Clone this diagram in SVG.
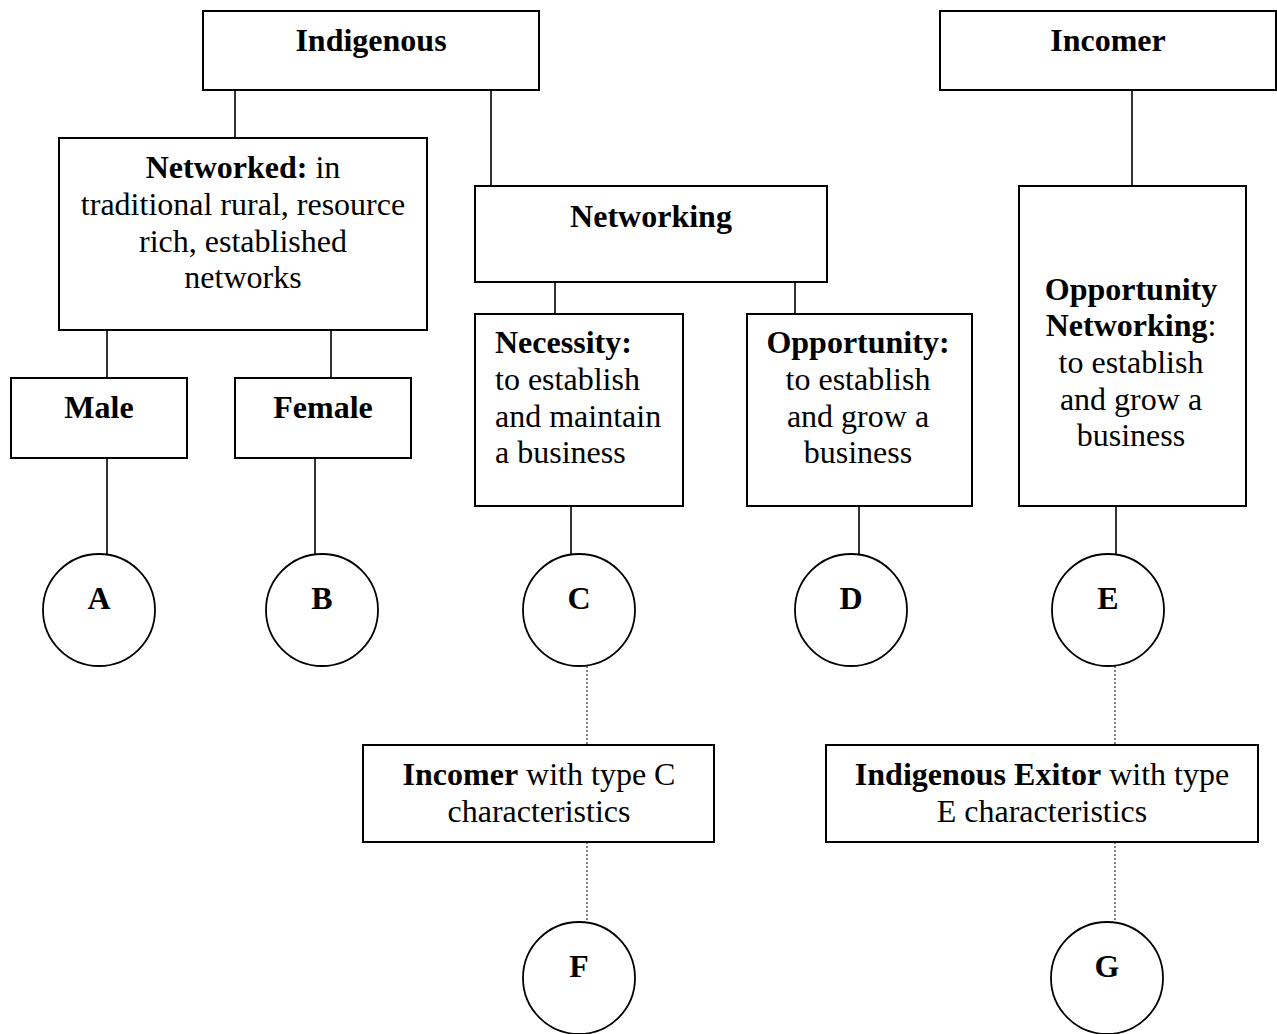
<svg xmlns="http://www.w3.org/2000/svg" width="1277" height="1034" viewBox="0 0 1277 1034">
<style>
  .box { fill: #fff; stroke: #000; stroke-width: 2; }
  .circ { fill: #fff; stroke: #000; stroke-width: 1.8; }
  .ln { stroke: #000; stroke-width: 1.6; fill: none; }
  .dot { stroke: #000; stroke-width: 1; stroke-dasharray: 2 2; fill: none; }
  text { font-family: "Liberation Serif", "Times New Roman", serif; font-size: 32px; fill: #000; }
  .c { text-anchor: middle; }
  .b { font-weight: bold; }
</style>
<rect width="1277" height="1034" fill="#fff"/>
<g id="connectors">
  <line class="ln" x1="235" y1="90" x2="235" y2="138"/>
  <line class="ln" x1="491" y1="90" x2="491" y2="186"/>
  <line class="ln" x1="1132" y1="90" x2="1132" y2="186"/>
  <line class="ln" x1="555" y1="282" x2="555" y2="314"/>
  <line class="ln" x1="795" y1="282" x2="795" y2="314"/>
  <line class="ln" x1="107" y1="330" x2="107" y2="378"/>
  <line class="ln" x1="331" y1="330" x2="331" y2="378"/>
  <line class="ln" x1="107" y1="458" x2="107" y2="555"/>
  <line class="ln" x1="315" y1="458" x2="315" y2="555"/>
  <line class="ln" x1="571" y1="506" x2="571" y2="555"/>
  <line class="ln" x1="859" y1="506" x2="859" y2="555"/>
  <line class="ln" x1="1116" y1="506" x2="1116" y2="555"/>
  <line class="dot" x1="587" y1="666" x2="587" y2="745"/>
  <line class="dot" x1="587" y1="842" x2="587" y2="922"/>
  <line class="dot" x1="1115" y1="666" x2="1115" y2="745"/>
  <line class="dot" x1="1115" y1="842" x2="1115" y2="922"/>
</g>
<g id="indigenous">
  <rect class="box" x="203" y="11" width="336" height="79"/>
  <text class="c b" x="371" y="51">Indigenous</text>
</g>
<g id="incomer">
  <rect class="box" x="940" y="11" width="336" height="79"/>
  <text class="c b" x="1108" y="51">Incomer</text>
</g>
<g id="networked">
  <rect class="box" x="59" y="138" width="368" height="192"/>
  <text class="c" x="243" y="178"><tspan class="b">Networked:</tspan> in</text>
  <text class="c" x="243" y="215">traditional rural, resource</text>
  <text class="c" x="243" y="252">rich, established</text>
  <text class="c" x="243" y="288">networks</text>
</g>
<g id="networking">
  <rect class="box" x="475" y="186" width="352" height="96"/>
  <text class="c b" x="651" y="227">Networking</text>
</g>
<g id="necessity">
  <rect class="box" x="475" y="314" width="208" height="192"/>
  <text class="b" x="495" y="353">Necessity:</text>
  <text x="495" y="390">to establish</text>
  <text x="495" y="427">and maintain</text>
  <text x="495" y="463">a business</text>
</g>
<g id="opportunity">
  <rect class="box" x="747" y="314" width="225" height="192"/>
  <text class="c b" x="858" y="353">Opportunity:</text>
  <text class="c" x="858" y="390">to establish</text>
  <text class="c" x="858" y="427">and grow a</text>
  <text class="c" x="858" y="463">business</text>
</g>
<g id="opportunity-networking">
  <rect class="box" x="1019" y="186" width="227" height="320"/>
  <text class="c b" x="1131" y="300">Opportunity</text>
  <text class="c" x="1131" y="336"><tspan class="b">Networking</tspan>:</text>
  <text class="c" x="1131" y="373">to establish</text>
  <text class="c" x="1131" y="410">and grow a</text>
  <text class="c" x="1131" y="446">business</text>
</g>
<g id="male">
  <rect class="box" x="11" y="378" width="176" height="80"/>
  <text class="c b" x="99" y="418">Male</text>
</g>
<g id="female">
  <rect class="box" x="235" y="378" width="176" height="80"/>
  <text class="c b" x="323" y="418">Female</text>
</g>
<g id="node-a">
  <circle class="circ" cx="99" cy="610" r="56"/>
  <text class="c b" x="99" y="609">A</text>
</g>
<g id="node-b">
  <circle class="circ" cx="322" cy="610" r="56"/>
  <text class="c b" x="322" y="609">B</text>
</g>
<g id="node-c">
  <circle class="circ" cx="579" cy="610" r="56"/>
  <text class="c b" x="579" y="609">C</text>
</g>
<g id="node-d">
  <circle class="circ" cx="851" cy="610" r="56"/>
  <text class="c b" x="851" y="609">D</text>
</g>
<g id="node-e">
  <circle class="circ" cx="1108" cy="610" r="56"/>
  <text class="c b" x="1108" y="609">E</text>
</g>
<g id="incomer-c">
  <rect class="box" x="363" y="745" width="351" height="97"/>
  <text class="c" x="539" y="785"><tspan class="b">Incomer</tspan> with type C</text>
  <text class="c" x="539" y="822">characteristics</text>
</g>
<g id="indigenous-exitor">
  <rect class="box" x="826" y="745" width="432" height="97"/>
  <text class="c" x="1042" y="785"><tspan class="b">Indigenous Exitor</tspan> with type</text>
  <text class="c" x="1042" y="822">E characteristics</text>
</g>
<g id="node-f">
  <circle class="circ" cx="579" cy="978" r="56"/>
  <text class="c b" x="579" y="977">F</text>
</g>
<g id="node-g">
  <circle class="circ" cx="1107" cy="978" r="56"/>
  <text class="c b" x="1107" y="977">G</text>
</g>
</svg>
